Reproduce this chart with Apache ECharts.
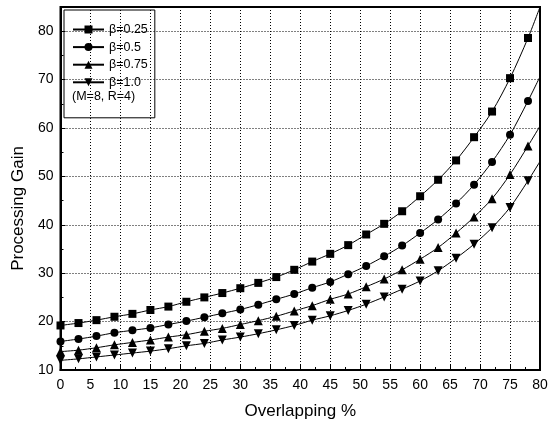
<!DOCTYPE html>
<html><head><meta charset="utf-8">
<script src="https://cdn.jsdelivr.net/npm/echarts@6/dist/echarts.min.js"></script>
<style>html,body{margin:0;padding:0;background:#fff}#c{width:551px;height:425px}</style>
</head><body><div id="c"></div>
<script>
const xValues = [0,3,6,9,12,15,18,21,24,27,30,33,36,39,42,45,48,51,54,57,60,63,66,69,72,75,78];
const gainB025 = [19.2,19.7,20.3,21.0,21.6,22.4,23.1,24.1,25.0,25.9,26.9,28.0,29.2,30.7,32.4,34.0,35.8,38.0,40.2,42.8,45.9,49.3,53.3,58.1,63.4,70.3,78.6];
const gainB05  = [15.9,16.4,17.0,17.7,18.2,18.7,19.4,20.1,20.9,21.7,22.5,23.5,24.6,25.7,27.0,28.2,29.8,31.5,33.5,35.7,38.3,41.1,44.4,48.3,53.0,58.6,65.6];
const gainB075 = [13.8,14.1,14.6,15.2,15.7,16.2,16.8,17.3,18.0,18.6,19.4,20.2,21.1,22.2,23.3,24.6,25.7,27.2,28.8,30.7,32.9,35.3,38.3,41.6,45.4,50.4,56.3];
const gainB10  = [12.0,12.3,12.7,13.1,13.5,13.9,14.4,15.0,15.5,16.2,16.8,17.5,18.3,19.2,20.3,21.2,22.3,23.6,25.1,26.7,28.4,30.5,33.1,36.0,39.4,43.6,49.1];
const curveEndX = 80;
const curveEndValues = [85, 70.6, 60.4, 53.1];
const seriesNames = ['β=0.25','β=0.5','β=0.75','β=1.0'];
const noteText = '(M=8, R=4)';

const FONT = 'Liberation Sans, Arial, sans-serif';
const allVals = [gainB025, gainB05, gainB075, gainB10];
const symbols = ['rect','circle','triangle','triangle'];
const rotates = [0,0,0,180];
const sizes = [8,8,9,9];

function build(vals, end) {
  const d = xValues.map((x,i)=>[x, vals[i]]);
  d.push({value:[curveEndX, end], symbol:'none'});
  return d;
}

const chart = echarts.init(document.getElementById('c'), null, {renderer:'canvas'});
chart.setOption({
  animation:false,
  backgroundColor:'#fff',
  grid:{left:60.5, right:11, top:7, bottom:52.7, show:true, borderColor:'#000', borderWidth:2, backgroundColor:'transparent'},
  legend:{
    left:64, top:10, orient:'vertical',
    data: seriesNames,
    itemWidth:31, itemHeight:10, itemGap:4.6,
    padding:[13,7,29,8],
    borderColor:'#000', borderWidth:1,
    textStyle:{fontFamily:FONT, fontSize:12.5, color:'#000'},
    selectedMode:false
  },
  graphic:[{type:'text', left:72, top:90, style:{text:noteText, font:'12.5px '+FONT, fill:'#000'}}],
  xAxis:{
    type:'value', min:0, max:80, interval:5,
    name:'Overlapping %', nameLocation:'middle', nameGap:33,
    nameTextStyle:{fontFamily:FONT, fontSize:17, color:'#000'},
    axisLine:{lineStyle:{color:'#000', width:2}},
    axisTick:{inside:true, length:5, lineStyle:{color:'#000'}},
    minorTick:{show:true, splitNumber:2, length:3, lineStyle:{color:'#000'}},
    axisLabel:{fontFamily:FONT, fontSize:14, color:'#000', margin:8},
    splitLine:{show:true, lineStyle:{color:'#000', type:[1,2], width:1}}
  },
  yAxis:{
    type:'value', min:10, max:85, interval:10,
    name:'Processing Gain', nameLocation:'middle', nameGap:34,
    nameTextStyle:{fontFamily:FONT, fontSize:17, color:'#000', padding:[0,40,0,0]},
    axisLine:{lineStyle:{color:'#000', width:2}},
    axisTick:{inside:true, length:5, lineStyle:{color:'#000'}},
    minorTick:{show:true, splitNumber:2, length:3, lineStyle:{color:'#000'}},
    axisLabel:{fontFamily:FONT, fontSize:14, color:'#000', margin:7, showMaxLabel:false},
    splitLine:{show:true, lineStyle:{color:'#000', type:[1,2], width:1}}
  },
  series: allVals.map((v,i)=>({
    name: seriesNames[i], type:'line', smooth:0.3,
    data: build(v, curveEndValues[i]),
    symbol: symbols[i], symbolSize: sizes[i], symbolRotate: rotates[i],
    showAllSymbol:true, clip:true,
    lineStyle:{color:'#000', width:1},
    itemStyle:{color:'#000', borderColor:'#000', borderWidth:0}
  }))
});
</script></body></html>
